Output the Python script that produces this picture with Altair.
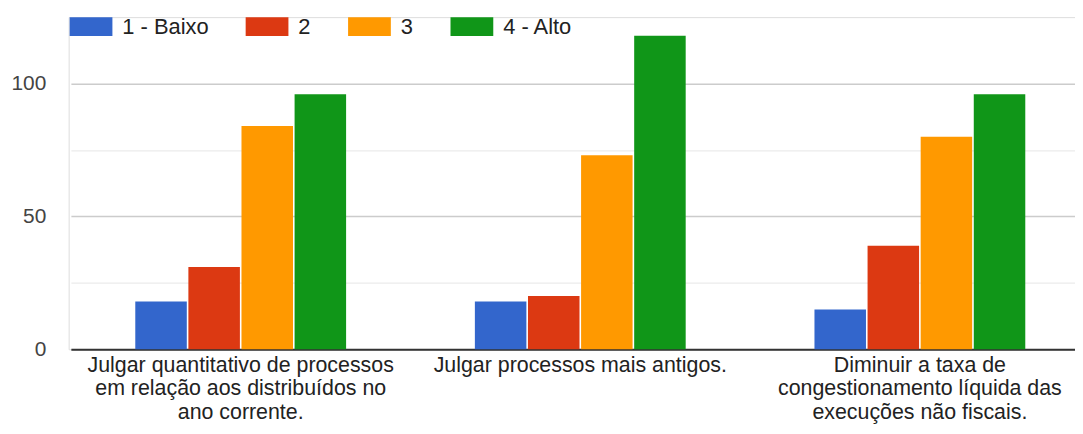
import altair as alt
import pandas as pd

categories = [
    "Julgar quantitativo de processos|em relação aos distribuídos no|ano corrente.",
    "Julgar processos mais antigos.",
    "Diminuir a taxa de|congestionamento líquida das|execuções não fiscais.",
]
series = ["1 - Baixo", "2", "3", "4 - Alto"]
values_baixo = [18, 18, 15]
values_2 = [31, 20, 39]
values_3 = [84, 73, 80]
values_alto = [96, 118, 96]
colors = ["#3366cc", "#dc3912", "#ff9900", "#109618"]

rows = []
for s, vals in zip(series, [values_baixo, values_2, values_3, values_alto]):
    for c, v in zip(categories, vals):
        rows.append({"categoria": c, "nivel": s, "valor": v})
df = pd.DataFrame(rows)

FONT = "Arial, Liberation Sans, sans-serif"

chart = alt.Chart(df).mark_bar().encode(
    x=alt.X(
        "categoria:N",
        sort=categories,
        scale=alt.Scale(range=[2.25, 1026.75], paddingInner=0, paddingOuter=0),
        axis=alt.Axis(
            title=None,
            labelAngle=0,
            ticks=False,
            domainColor="#333333",
            domainWidth=2,
            labelFont=FONT,
            labelFontSize=21.5,
            labelColor="#222222",
            labelPadding=5,
            labelBaseline="top",
            labelLineHeight=24,
            labelLimit=0,
            labelExpr="split(datum.label, '|')",
        ),
    ),
    xOffset=alt.XOffset(
        "nivel:N",
        sort=series,
        scale=alt.Scale(range=[64.75, 276.75], paddingInner=0.03, paddingOuter=0),
    ),
    y=alt.Y(
        "valor:Q",
        scale=alt.Scale(domain=[0, 125], nice=False),
        axis=alt.Axis(
            title=None,
            values=[0, 25, 50, 75, 100],
            labelExpr="datum.value % 50 === 0 ? datum.label : ''",
            ticks=False,
            domain=False,
            grid=True,
            gridColor={"condition": {"test": "datum.value % 50 === 0", "value": "#cccccc"}, "value": "#ebebeb"},
            gridWidth=1.5,
            labelFont=FONT,
            labelFontSize=21,
            labelColor="#444444",
            labelPadding=23,
        ),
    ),
    color=alt.Color(
        "nivel:N",
        sort=series,
        scale=alt.Scale(domain=series, range=colors),
        legend=alt.Legend(
            title=None,
            orient="none",
            direction="horizontal",
            legendX=1,
            legendY=-12,
            symbolType="M-1,-0.44H1V0.44H-1Z",
            symbolSize=1849,
            symbolStrokeWidth=0,
            symbolOpacity=1,
            labelFont=FONT,
            labelFontSize=22,
            labelColor="#222222",
            labelOffset=10,
            columnPadding=37,
            gridAlign="none",
        ),
    ),
).properties(
    width=1012,
    height=334,
    autosize=alt.AutoSizeParams(type="none"),
    padding={"left": 61, "top": 8, "right": 0, "bottom": 76},
).configure_view(stroke=None).configure(background="white")

chart.save("out.html", embed_options={"renderer": "svg", "actions": False})
